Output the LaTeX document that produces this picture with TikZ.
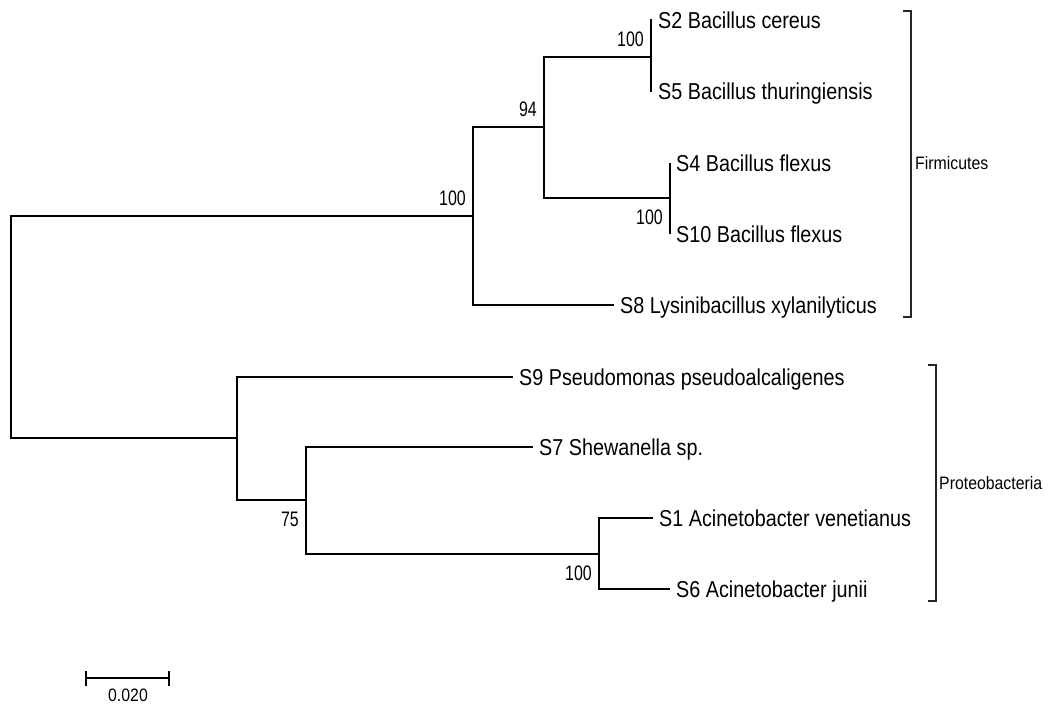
\documentclass[tikz,border=0pt]{standalone}
\usepackage{fontspec}
\newfontfamily\taxonfont[FakeStretch=0.86]{Liberation Sans}
\newfontfamily\bootfont[FakeStretch=0.76]{Liberation Sans}
\newfontfamily\cladefont[FakeStretch=0.88]{Liberation Sans}
\tikzset{
  branch/.style={line width=1.5pt, black},
  taxon/.style={anchor=west, inner xsep=6pt, inner ysep=0pt, text height=16.5pt, text depth=0pt,
    font=\taxonfont\fontsize{23}{27}\selectfont},
  bootup/.style={anchor=south east, inner sep=0pt, xshift=-7pt, yshift=10pt,
    font=\bootfont\fontsize{21}{25}\selectfont},
  bootdown/.style={anchor=north east, inner sep=0pt, xshift=-7pt, yshift=-12pt,
    font=\bootfont\fontsize{21}{25}\selectfont},
  cladelabel/.style={anchor=west, inner sep=0pt, font=\cladefont\fontsize{18}{22}\selectfont}
}
\begin{document}
\begin{tikzpicture}[x=1pt, y=-1pt]
            \useasboundingbox (0,0) rectangle (1049,706);

            % Nodos internos
            \coordinate (root) at (11,327);
            \coordinate (nF) at (473,216);
            \coordinate (n94) at (544,127);
            \coordinate (nB) at (651,57);
            \coordinate (nBf) at (670,198);
            \coordinate (nP) at (237,438);
            \coordinate (n75) at (306,500);
            \coordinate (nA) at (599,554);

            % Hojas
            \node[taxon] (s2) at (652,20) {S2 Bacillus cereus};
            \node[taxon] (s5) at (652,91) {S5 Bacillus thuringiensis};
            \node[taxon] (s4) at (670,163) {S4 Bacillus flexus};
            \node[taxon] (s10) at (670,234) {S10 Bacillus flexus};
            \node[taxon] (s8) at (614,305) {S8 Lysinibacillus xylanilyticus};
            \node[taxon] (s9) at (513,377) {S9 Pseudomonas pseudoalcaligenes};
            \node[taxon] (s7) at (533,447) {S7 Shewanella sp.};
            \node[taxon] (s1) at (653,518) {S1 Acinetobacter venetianus};
            \node[taxon] (s6) at (670,589) {S6 Acinetobacter junii};

            % Ramas
            \draw[branch] (root) |- (nF);
            \draw[branch] (root) |- (nP);
            \draw[branch] (nF) |- (n94);
            \draw[branch] (nF) |- (s8.west);
            \draw[branch] (n94) |- (nB);
            \draw[branch] (n94) |- (nBf);
            \draw[branch] (nB) |- (s2.west);
            \draw[branch] (nB) |- (s5.west);
            \draw[branch] (nBf) |- (s4.west);
            \draw[branch] (nBf) |- (s10.west);
            \draw[branch] (nP) |- (s9.west);
            \draw[branch] (nP) |- (n75);
            \draw[branch] (n75) |- (s7.west);
            \draw[branch] (n75) |- (nA);
            \draw[branch] (nA) |- (s1.west);
            \draw[branch] (nA) |- (s6.west);

            % Valores de bootstrap
            \node[bootup] (bF) at (nF) {100};
            \node[bootup] (b94) at (n94) {94};
            \node[bootup] (bB) at (nB) {100};
            \node[bootdown] (bBf) at (nBf) {100};
            \node[bootdown] (b75) at (n75) {75};
            \node[bootdown] (bA) at (nA) {100};

            % Corchetes de los grupos
            \draw[line width=1.2pt, black!85] (903,11) -- (911,11) -- (911,317) -- (903,317);
            \node[cladelabel] (firm) at (915,163) {Firmicutes};
            \draw[line width=1.2pt, black!85] (928,365) -- (936,365) -- (936,601) -- (928,601);
            \node[cladelabel] (prot) at (939,483) {Proteobacteria};

            % Barra de escala
            \coordinate (sbL) at (86,678);
            \coordinate (sbR) at (169,678);
            \draw[branch] (sbL) -- (sbR);
            \draw[branch] (86,671) -- (86,686);
            \draw[branch] (169,671) -- (169,686);
            \node[cladelabel, anchor=north] (sblabel) at (128,689) {0.020};

\end{tikzpicture}
\end{document}
